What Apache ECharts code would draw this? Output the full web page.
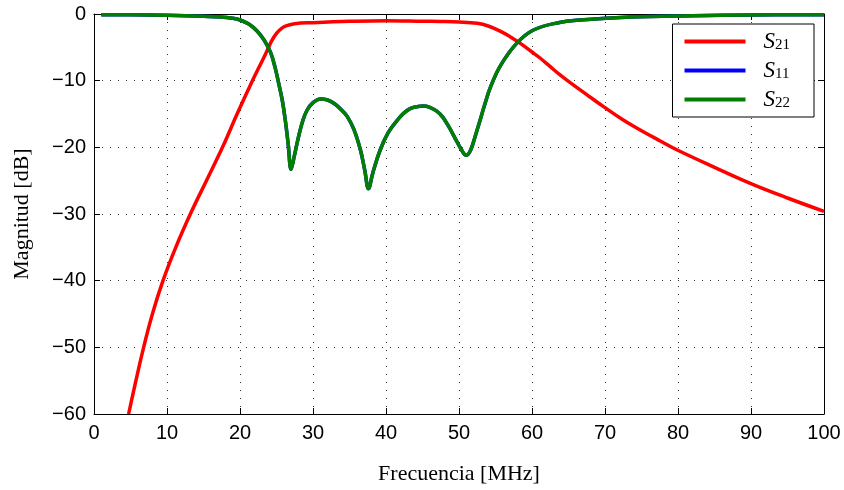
<!DOCTYPE html>
<html>
<head>
<meta charset="utf-8">
<script src="https://cdn.jsdelivr.net/npm/echarts@6/dist/echarts.min.js"></script>
<style>html,body{margin:0;padding:0;background:#fff}#c{width:844px;height:490px}</style>
</head>
<body>
<div id="c"></div>
<script>
// Frequency (MHz) / magnitude (dB)
const freqS21 = [4.74, 5.7, 6.8, 8.0, 9.45, 11.2, 13.2, 15.4, 17.6, 19.6, 21.7, 22.6, 23.5, 24.3, 25.0, 25.7, 26.4, 27.5, 30, 35, 40, 45, 47.4, 50, 52.5, 54, 55.7, 57, 58.4, 60, 61.1, 62.5, 63.8, 65, 67.5, 69.8, 72.5, 75, 77.5, 79.9, 85, 89.9, 95, 100];
const valS21  = [-60, -55.2, -50, -45, -40, -35, -30, -25, -20, -15, -10, -8, -6, -4.1, -2.9, -2.15, -1.75, -1.45, -1.3, -1.1, -1.0, -1.08, -1.12, -1.2, -1.4, -1.8, -2.6, -3.4, -4.4, -5.7, -6.6, -7.9, -9.1, -10.1, -12.1, -13.9, -15.9, -17.5, -19, -20.4, -23, -25.4, -27.6, -29.6];

const freqS11 = [1, 5, 10, 15, 17.3, 19, 20, 21.2, 22.3, 23.3, 24.2, 24.8, 25.3, 25.8, 26.2, 26.6, 27.0, 27.4, 28.0, 28.6, 29.2, 30.0, 31.0, 32.0, 33.0, 34.0, 34.7, 35.6, 36.5, 37.1, 37.6, 38.2, 39.2, 40.3, 41.5, 42.4, 43.3, 44.2, 45.1, 46.0, 47.0, 47.8, 48.6, 49.4, 50.2, 51.0, 51.6, 52.2, 52.9, 53.6, 54.3, 55.7, 57.9, 60.2, 63.6, 66.6, 73.5, 82, 90, 100];
const valS11  = [-0.1, -0.12, -0.2, -0.35, -0.45, -0.65, -0.9, -1.5, -2.5, -3.9, -5.8, -8, -10.4, -13, -15.9, -19.5, -23.3, -21.5, -18.5, -16, -14.4, -13.3, -12.75, -12.9, -13.5, -14.5, -15.4, -17.3, -20.4, -23.5, -26.2, -23.8, -20.4, -17.8, -16, -14.9, -14.2, -13.9, -13.8, -14.0, -14.6, -15.5, -16.9, -18.5, -20.1, -21.2, -20.4, -18.4, -15.9, -13.3, -11.0, -7.7, -4.4, -2.4, -1.3, -0.9, -0.45, -0.25, -0.15, -0.1];
const freqS22 = freqS11;
const valS22  = valS11;

const xTicks = {min: 0, max: 100, interval: 10};
const yTicks = {min: -60, max: 0, interval: 10};

const zip = (a, b) => a.map((v, i) => [v, b[i]]);
const minus = v => String(v).replace('-', '\u2212');

const chart = echarts.init(document.getElementById('c'), null, {renderer: 'canvas'});
const gridLine = {show: true, lineStyle: {color: '#333', width: 1, type: [1, 7]}};
const tickStyle = {show: true, inside: true, length: 6, lineStyle: {color: '#000', width: 1}};
const axisLineStyle = {show: true, onZero: false, lineStyle: {color: '#000', width: 1}};
const tickFont = {fontFamily: 'Liberation Sans', fontSize: 20, color: '#000'};
const titleFont = {fontFamily: 'Liberation Serif', fontSize: 22, color: '#000'};

chart.setOption({
  animation: false,
  backgroundColor: '#fff',
  grid: {left: 94, right: 20, top: 14, bottom: 75, containLabel: false},
  xAxis: [
    {type: 'value', min: xTicks.min, max: xTicks.max, interval: xTicks.interval, position: 'bottom',
     axisLine: axisLineStyle, axisTick: tickStyle, splitLine: gridLine,
     axisLabel: Object.assign({margin: 9, formatter: minus}, tickFont),
     name: 'Frecuencia [MHz]', nameLocation: 'middle', nameGap: 49, nameTextStyle: titleFont},
    {type: 'value', min: xTicks.min, max: xTicks.max, interval: xTicks.interval, position: 'top',
     axisLine: axisLineStyle, axisTick: tickStyle, splitLine: {show: false}, axisLabel: {show: false}}
  ],
  yAxis: [
    {type: 'value', min: yTicks.min, max: yTicks.max, interval: yTicks.interval, position: 'left',
     axisLine: axisLineStyle, axisTick: tickStyle, splitLine: gridLine,
     axisLabel: Object.assign({margin: 8, formatter: minus}, tickFont),
     name: 'Magnitud [dB]', nameLocation: 'middle', nameGap: 61, nameRotate: 90, nameTextStyle: titleFont},
    {type: 'value', min: yTicks.min, max: yTicks.max, interval: yTicks.interval, position: 'right',
     axisLine: axisLineStyle, axisTick: tickStyle, splitLine: {show: false}, axisLabel: {show: false}}
  ],
  legend: {
    right: 30, top: 24, orient: 'vertical',
    data: ['S21', 'S11', 'S22'],
    icon: 'rect', itemWidth: 61, itemHeight: 4, itemGap: 6,
    backgroundColor: '#fff', borderColor: '#000', borderWidth: 1, borderRadius: 0,
    padding: [6, 24, 6, 12],
    formatter: name => '{s|S}{sub|' + name.slice(1) + '}',
    textStyle: {
      padding: [0, 0, 0, 13],
      rich: {
        s: {fontFamily: 'Liberation Serif', fontStyle: 'italic', fontSize: 23, color: '#000', lineHeight: 22},
        sub: {fontFamily: 'Liberation Serif', fontSize: 15, color: '#000', lineHeight: 22, padding: [8, 0, 0, 0]}
      }
    }
  },
  series: [
    {name: 'S21', type: 'line', data: zip(freqS21, valS21), showSymbol: false, smooth: 0.4,
     lineStyle: {color: '#ff0000', width: 3.5}, itemStyle: {color: '#ff0000'}, clip: true},
    {name: 'S11', type: 'line', data: zip(freqS11, valS11), showSymbol: false, smooth: 0.4,
     lineStyle: {color: '#0000ff', width: 3.5}, itemStyle: {color: '#0000ff'}, clip: true},
    {name: 'S22', type: 'line', data: zip(freqS22, valS22), showSymbol: false, smooth: 0.4,
     lineStyle: {color: '#007f00', width: 3.5}, itemStyle: {color: '#007f00'}, clip: true}
  ]
});
</script>
</body>
</html>
